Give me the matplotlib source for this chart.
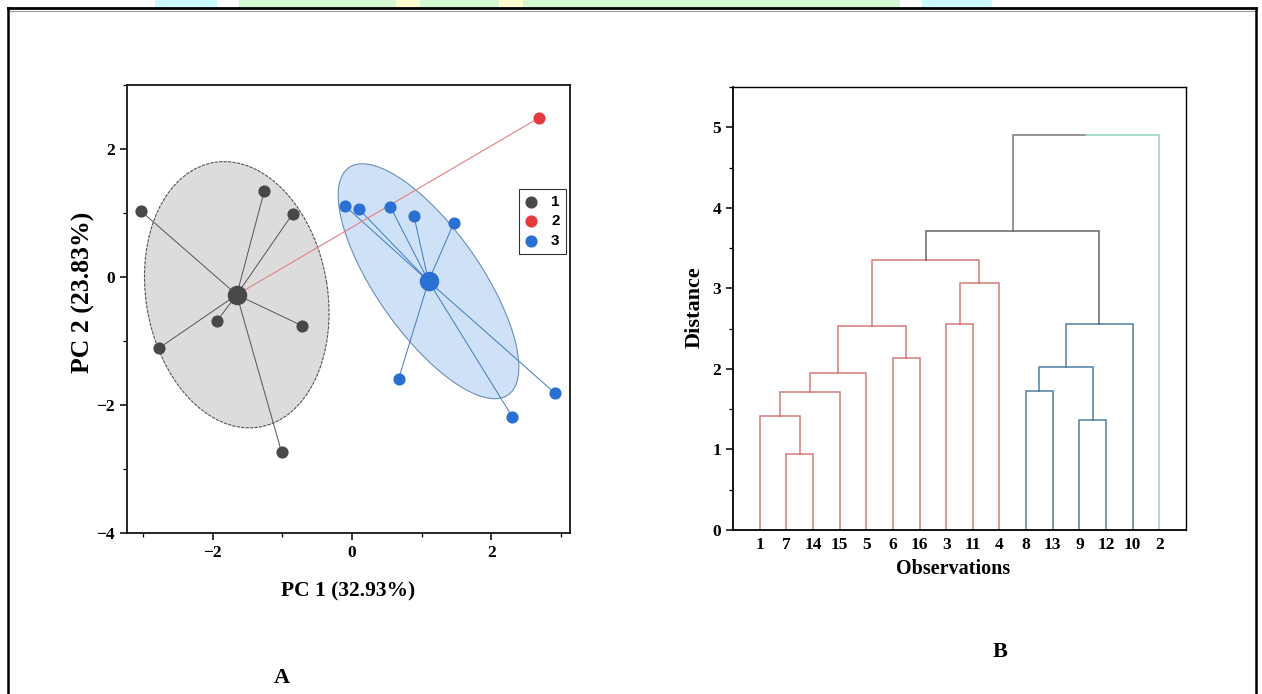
import numpy as np
import matplotlib.pyplot as plt
from matplotlib.patches import Ellipse, Rectangle
from matplotlib.lines import Line2D
from matplotlib.ticker import MultipleLocator

# PCA scores
g1_x = [-3.03, -1.26, -0.85, -1.94, -0.72, -2.77, -1.01]
g1_y = [1.03, 1.34, 0.99, -0.69, -0.76, -1.11, -2.74]
g2_x = [2.69]
g2_y = [2.49]
g3_x = [-0.10, 0.10, 0.55, 0.89, 1.46, 0.67, 2.30, 2.92]
g3_y = [1.11, 1.06, 1.10, 0.95, 0.84, -1.59, -2.18, -1.82]
group_labels = ['1', '2', '3']

# dendrogram of panel B
leaf_order = [1, 7, 14, 15, 5, 6, 16, 3, 11, 4, 8, 13, 9, 12, 10, 2]
# merges numbered 17, 18, ... in this order
merge_left = [7, 1, 18, 19, 6, 20, 3, 23, 22, 8, 9, 26, 28, 25, 30]
merge_right = [14, 17, 15, 5, 16, 21, 11, 4, 24, 13, 12, 27, 10, 29, 2]
merge_height = [0.94, 1.41, 1.71, 1.95, 2.13, 2.53, 2.56, 3.07, 3.35,
                1.72, 1.37, 2.02, 2.56, 3.71, 4.90]

plt.rcParams['font.family'] = 'Liberation Serif'
plt.rcParams['font.weight'] = 'bold'

c_gray = '#484848'
c_red = '#e33b3d'
c_blue = '#2a70d2'

fig = plt.figure(figsize=(12.62, 6.94), dpi=100)

# frame round the whole figure and the cut-off strip on top
fig.add_artist(Rectangle((155/1262, 1-7/694), 62/1262, 7/694, transform=fig.transFigure, color='#cdfcff', lw=0))
fig.add_artist(Rectangle((239/1262, 1-7/694), 661/1262, 7/694, transform=fig.transFigure, color='#d3f6d3', lw=0))
fig.add_artist(Rectangle((922/1262, 1-7/694), 70/1262, 7/694, transform=fig.transFigure, color='#cdfcff', lw=0))
for cx in [408, 511]:
    fig.add_artist(Rectangle(((cx-12)/1262, 1-7/694), 24/1262, 7/694, transform=fig.transFigure, color='#fffbcc', lw=0))
fig.add_artist(Line2D([8/1262, 1256/1262], [1-8/694, 1-8/694], color='black', lw=2))
fig.add_artist(Line2D([8/1262, 1256/1262], [1-10.5/694, 1-10.5/694], color='#999999', lw=0.8))
fig.add_artist(Line2D([8/1262, 8/1262], [0, 1-8/694], color='black', lw=1.8))
fig.add_artist(Line2D([1256/1262, 1256/1262], [0, 1-8/694], color='black', lw=1.8))


def conf_ellipse(x, y, **kw):
    # 95% confidence ellipse of the mean
    x = np.asarray(x)
    y = np.asarray(y)
    n = len(x)
    cov = np.cov(x, y)
    f = (n - 2) / 2 * (0.05 ** (-2 / (n - 2)) - 1)
    k = np.sqrt(2 * (n - 1) / (n * (n - 2)) * f)
    vals, vecs = np.linalg.eigh(cov)
    ang = np.degrees(np.arctan2(vecs[1, 1], vecs[0, 1]))
    return Ellipse((x.mean(), y.mean()), 2 * k * np.sqrt(vals[1]), 2 * k * np.sqrt(vals[0]),
                   angle=ang, **kw)


# Panel A
ax = fig.add_axes([127/1262, 1-533/694, 443/1262, 448/694])
ax.add_patch(conf_ellipse(g1_x, g1_y, facecolor='#dcdcdc', edgecolor='#555555', lw=0.8, ls=(0, (3, 1)), zorder=1))
ax.add_patch(conf_ellipse(g3_x, g3_y, facecolor='#cfe1f6', edgecolor='#6b8fb8', lw=0.8, zorder=1))

m1 = (np.mean(g1_x), np.mean(g1_y))
m3 = (np.mean(g3_x), np.mean(g3_y))
for xi, yi in zip(g1_x, g1_y):
    ax.plot([m1[0], xi], [m1[1], yi], color='#555555', lw=0.7, zorder=2)
for xi, yi in zip(g3_x, g3_y):
    ax.plot([m3[0], xi], [m3[1], yi], color='#3c7bbd', lw=0.7, zorder=2)
for xi, yi in zip(g2_x, g2_y):
    ax.plot([m1[0], xi], [m1[1], yi], color='#e58080', lw=0.8, zorder=2)

ax.scatter(g1_x, g1_y, s=60, color=c_gray, zorder=3, label=group_labels[0])
ax.scatter(g2_x, g2_y, s=60, color=c_red, zorder=3, label=group_labels[1])
ax.scatter(g3_x, g3_y, s=60, color=c_blue, zorder=3, label=group_labels[2])
ax.scatter([m1[0]], [m1[1]], s=170, color=c_gray, zorder=4)
ax.scatter([m3[0]], [m3[1]], s=170, color=c_blue, zorder=4)

ax.set_xlim(-3.23, 3.13)
ax.set_ylim(-4, 3)
ax.xaxis.set_major_locator(MultipleLocator(2))
ax.xaxis.set_minor_locator(MultipleLocator(1))
ax.yaxis.set_major_locator(MultipleLocator(2))
ax.yaxis.set_minor_locator(MultipleLocator(1))
ax.tick_params(which='major', direction='out', length=5, width=1.1, labelsize=12.5)
ax.tick_params(which='minor', direction='out', length=3, width=0.9)
for s in ax.spines.values():
    s.set_linewidth(1.2)
ax.set_xlabel('PC 1 (32.93%)', fontsize=15.5, fontweight='bold')
ax.xaxis.set_label_coords(0.499, -0.108)
ax.set_ylabel('PC 2 (23.83%)', fontsize=18.5, fontweight='bold')
ax.yaxis.set_label_coords(-0.072, 0.538)
leg = ax.legend(loc='upper left', bbox_to_anchor=(0.885, 0.768), frameon=True, fancybox=False,
                edgecolor='black', handlelength=0.8, handletextpad=0.9, borderpad=0.4,
                labelspacing=0.35, borderaxespad=0, prop={'family': 'Liberation Sans', 'size': 11})
leg.get_frame().set_linewidth(0.8)
fig.text(282/1262, 1-678/694, 'A', fontsize=16, fontweight='bold', ha='center', va='center')

# Panel B
bx = fig.add_axes([733/1262, 1-530/694, 453/1262, 443/694])
pos = {leaf: i + 1 for i, leaf in enumerate(leaf_order)}
hgt = {leaf: 0.0 for leaf in leaf_order}
leg_colors = ['#d57a7a'] * 9 + ['#4f80a6'] * 4 + [('#666666', '#666666'), ('#777777', '#8fd3bd')]
for i, (a, b, h) in enumerate(zip(merge_left, merge_right, merge_height)):
    node = 17 + i
    pos[node] = (pos[a] + pos[b]) / 2
    hgt[node] = h
    col = leg_colors[i]
    cl, cr = (col, col) if isinstance(col, str) else col
    bx.plot([pos[a], pos[a], pos[node]], [hgt[a], h, h], color=cl, lw=1.1, solid_joinstyle='miter')
    bx.plot([pos[b], pos[b], pos[node]], [hgt[b], h, h], color=cr, lw=1.1, solid_joinstyle='miter')

bx.set_xlim(0, len(leaf_order) + 1)
bx.set_ylim(0, 5.5)
bx.set_xticks(range(1, len(leaf_order) + 1))
bx.set_xticklabels([str(v) for v in leaf_order])
bx.tick_params(axis='x', length=0, labelsize=12.5, pad=5)
bx.yaxis.set_major_locator(MultipleLocator(1))
bx.yaxis.set_minor_locator(MultipleLocator(0.5))
bx.tick_params(axis='y', which='major', direction='out', length=5, width=1.1, labelsize=12.5)
bx.tick_params(axis='y', which='minor', direction='out', length=3, width=0.9)
for s in bx.spines.values():
    s.set_linewidth(1.0)
bx.spines['left'].set_linewidth(1.3)
bx.spines['bottom'].set_linewidth(1.3)
bx.set_xlabel('Observations', fontsize=14.5, fontweight='bold')
bx.xaxis.set_label_coords(0.486, -0.066)
bx.set_ylabel('Distance', fontsize=16, fontweight='bold')
bx.yaxis.set_label_coords(-0.062, 0.503)
fig.text(1000/1262, 1-652/694, 'B', fontsize=16, fontweight='bold', ha='center', va='center')

plt.savefig('out.png', dpi=100, facecolor='white')
